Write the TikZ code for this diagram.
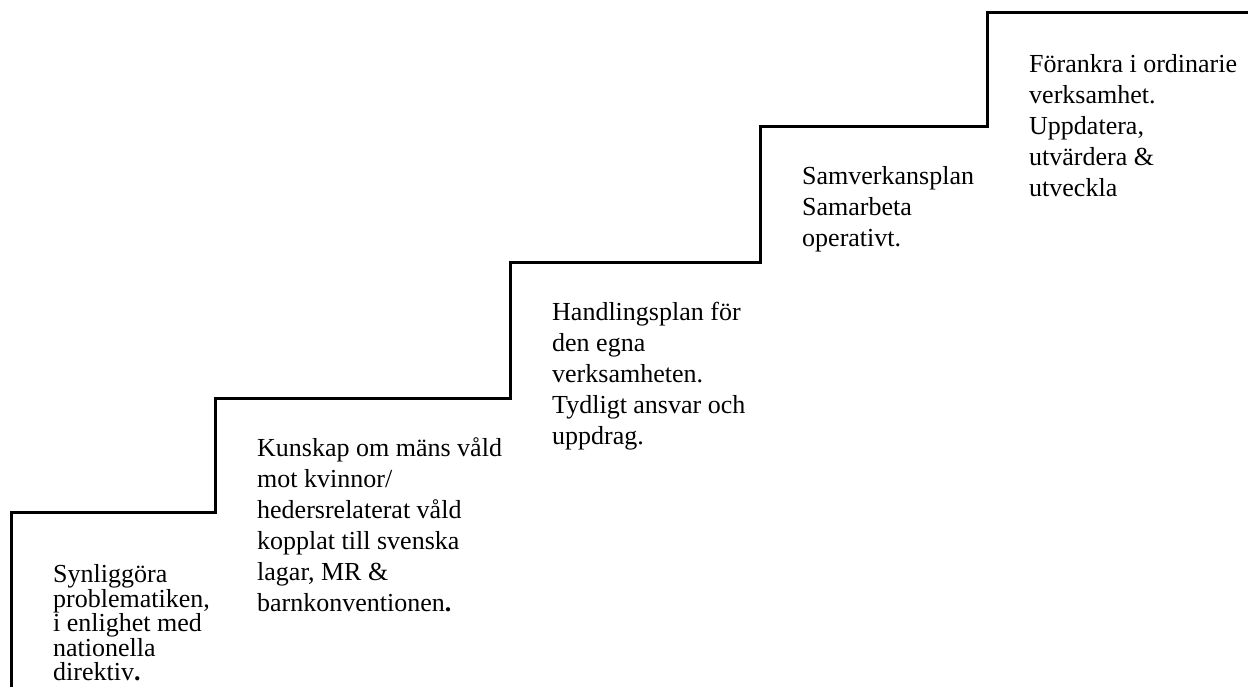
\documentclass[tikz,border=0pt]{standalone}
\usepackage{fontspec}
\setmainfont{Liberation Serif}
\usetikzlibrary{positioning}

\begin{document}
\begin{tikzpicture}[x=1pt,y=1pt,
    stair/.style={draw, line width=3pt},
    steptext/.style={anchor=base west, align=left, inner sep=0pt, font=\fontsize{26}{31}\selectfont}]
        \useasboundingbox (0,0) rectangle (1248,687);
        % corners of the stairs
        \coordinate (s0) at (11,0);
        \coordinate (s1) at (11,174);
        \coordinate (s2) at (215,174);
        \coordinate (s3) at (215,288);
        \coordinate (s4) at (510,288);
        \coordinate (s5) at (510,424);
        \coordinate (s6) at (760,424);
        \coordinate (s7) at (760,560);
        \coordinate (s8) at (987,560);
        \coordinate (s9) at (987,674);
        \coordinate (s10) at (1252,674);
        \draw[stair] (s0) -- (s1) -- (s2) -- (s3) -- (s4) -- (s5) -- (s6) -- (s7) -- (s8) -- (s9) -- (s10);
        % texts on the steps (anchored at the baseline of the last line)
        \node[steptext, font=\fontsize{26}{24.5}\selectfont] (T1) at ([shift={(42,-168)}]s1) {Synliggöra\\problematiken,\\i enlighet med\\nationella\\direktiv\textbf{.}};
        \node[steptext] (T2) at ([shift={(42,-213)}]s3) {Kunskap om mäns våld\\mot kvinnor/\\hedersrelaterat våld\\kopplat till svenska\\lagar, MR \&\\barnkonventionen\textbf{.}};
        \node[steptext] (T3) at ([shift={(42,-182)}]s5) {Handlingsplan för\\den egna\\verksamheten.\\Tydligt ansvar och\\uppdrag.};
        \node[steptext] (T4) at ([shift={(42,-120)}]s7) {Samverkansplan\\Samarbeta\\operativt.};
        \node[steptext] (T5) at ([shift={(42,-184)}]s9) {Förankra i ordinarie\\verksamhet.\\Uppdatera,\\utvärdera \&\\utveckla};
    \end{tikzpicture}
\end{document}
